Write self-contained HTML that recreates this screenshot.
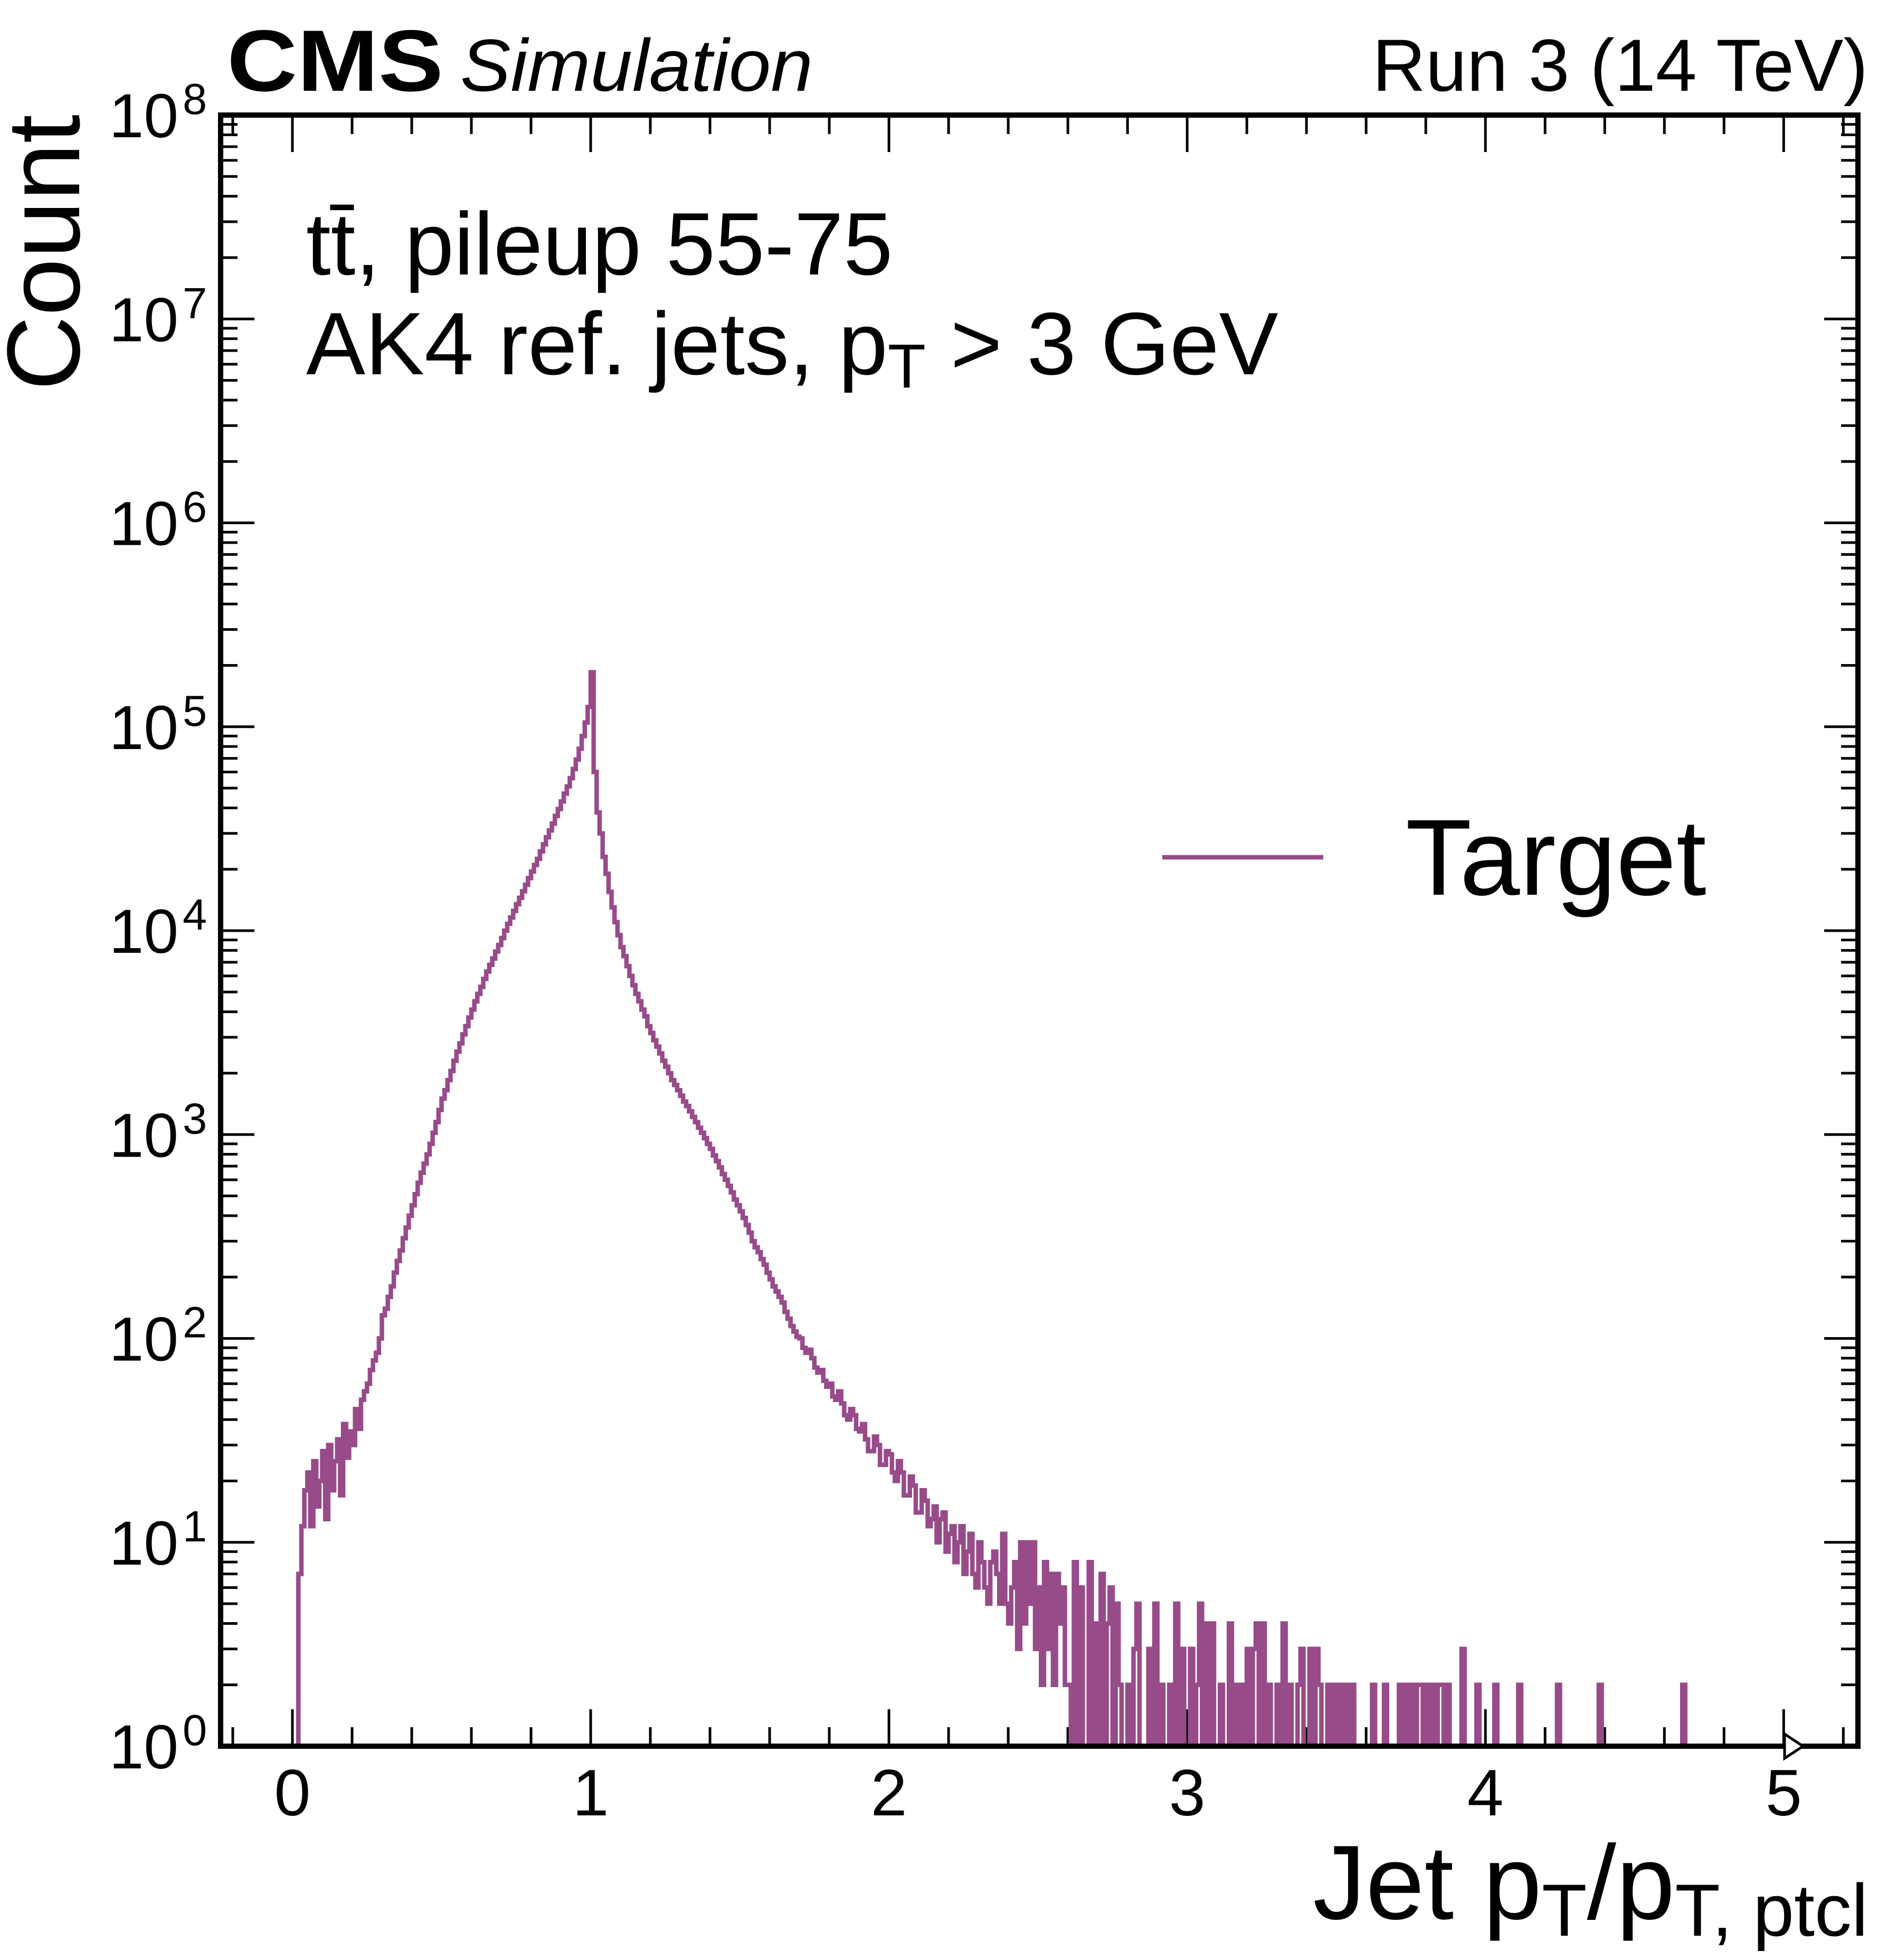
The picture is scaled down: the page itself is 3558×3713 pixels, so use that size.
<!DOCTYPE html>
<html><head><meta charset="utf-8"><style>
html,body{margin:0;padding:0;background:#fff}
svg{display:block}
text{font-family:"Liberation Sans",sans-serif;fill:#000}
</style></head><body>
<svg id="chart" width="3558" height="3713" viewBox="0 0 3558 3713" xmlns="http://www.w3.org/2000/svg">
<g id="ticks"></g>
<path id="hist" fill="none" stroke="#974b89" stroke-width="8.5" stroke-linejoin="miter"/>
<rect x="418" y="218" width="3102" height="3090" fill="none" stroke="#000" stroke-width="10"/>
<path d="M3381,3285 L3416,3308 L3381,3331 Z" fill="#fff" stroke="#000" stroke-width="5"/>
<g id="labels"></g>
<text x="430" y="172" font-size="165" font-weight="bold" textLength="410" lengthAdjust="spacingAndGlyphs">CMS</text>
<text x="872" y="172" font-size="140" font-style="italic" textLength="668" lengthAdjust="spacingAndGlyphs">Simulation</text>
<text x="3539" y="172" font-size="140" text-anchor="end">Run 3 (14 TeV)</text>
<text x="580" y="520" font-size="168">tt̄, pileup 55-75</text>
<text x="580" y="709" font-size="168">AK4 ref. jets, p<tspan font-size="118" dy="25">T</tspan><tspan dy="-25"> &gt; 3 GeV</tspan></text>
<line x1="2202" y1="1624" x2="2507" y2="1624" stroke="#974b89" stroke-width="8.5"/>
<text x="2663" y="1695" font-size="205">Target</text>
<text transform="translate(150,740) rotate(-90)" font-size="196">Count</text>
<text x="3539" y="3635" font-size="200" text-anchor="end">Jet p<tspan font-size="140" dy="32">T</tspan><tspan dy="-32">/p</tspan><tspan font-size="140" dy="32">T, ptcl</tspan></text>
</svg>
<script>
const binStart = 0, binWidth = 0.01;
const countsCore = [0,0,7,12,18,22,12,25,15,20,28,13,30,18,25,32,17,38,26,35,30,45,36,50,55,60,70,78,85,100,
130,140,160,180,210,240,270,310,350,400,450,510,580,650,720,800,900,1020,1150,1320,
1500,1650,1850,2050,2300,2550,2800,3100,3400,3750,4100,4500,4900,5300,5800,6300,6800,7300,7900,8500,
9200,10000,10800,11600,12500,13500,14500,15600,16800,18100,19500,21000,22500,24500,26500,28700,31000,33500,36500,39500,
43000,47000,51000,56000,62000,69000,78000,90000,105000,125000,
185000,60000,38000,30000,23000,19000,15500,13000,11000,9500,8300,7500,6700,6000,5400,4900,4500,4100,3800,3400,
3150,2900,2700,2500,2300,2150,2000,1850,1750,1650,1550,1450,1380,1300,1220,1150,1080,1020,960,900,
850,790,740,690,640,600,560,520,480,450,420,390,360,330,300,280,265,245,230,210,
195,180,170,160,150,135,125,115,108,102,100,90,85,88,80,72,68,70,62,58,
60,52,50,55,48,42,40,45,42,36,35,38,32,28,28,33,30,24,24,28,
27,22,20,25,22,17,17,21,19,14,14,18,16,12,13,15,10,13,14,9,
11,12,8,10,12,7,9,11,7,6,10,8,6,5,8,9,7,5];
const countsTail = [11,5,4,6,8,3,10,4,10,5,10,3,
6,2,8,3,7,2,7,4,6,2, 2,0,8,0,6,1,0,8,1,4, 0,7,1,4,6,1,5,2,0,0, 2,1,3,5,1,0,0,3,1,5,
1,2,0,0,2,0,5,1,3,1, 0,3,1,2,5,1,4,0,4,1, 0,2,0,0,4,1,2,1,2,1, 3,1,3,4,0,4,0,2,1,0,
2,1,4,0,2,1,0,2,3,1, 0,3,1,3,2,0,0,2,1,2, 1,2,1,2,1,2,0,0,0,0, 0,0,2,0,0,0,2,0,0,0,
0,2,1,2,1,2,1,2,2,1, 2,1,2,1,2,2,1,2,0,0, 0,0,3,0,0,0,0,2,0,0, 0,0,0,2,0,0,0,0,0,0,
0,2,0,0,0,0,0,0,0,0, 0,0,0,0,2,0,0,0,0,0, 0,0,0,0,0,0,0,0,2,0, 0,0,0,0,0,0,0,0,0,0,
0,0,0,0,0,0,0,0,0,0, 0,0,0,0,0,0,2,0,0,0, 0,0,0,0,0,0,0,0,0,0, 0,0,0,0,0,0,0,0,0,0, 0,0,0,0,0,0,0,0,0,0];
const counts = countsCore.concat(countsTail);
const xTicks = [0,1,2,3,4,5];
const yTicks = [0,1,2,3,4,5,6,7,8];
const X0=418,X1=3520,Y0=3308,Y1=218,xmin=-0.2407,xmax=5.249,ymin=0,ymax=8;
const sx=v=>X0+(v-xmin)/(xmax-xmin)*(X1-X0);
const sy=c=>c<=0?Y0:Y0-(Math.log10(c)-ymin)/(ymax-ymin)*(Y0-Y1);
let d='';
counts.forEach((c,i)=>{const a=sx(binStart+i*binWidth),b=sx(binStart+(i+1)*binWidth),y=sy(c);
 d+=(i===0?'M':'L')+a.toFixed(1)+','+y.toFixed(1)+' L'+b.toFixed(1)+','+y.toFixed(1)+' ';});
document.getElementById('hist').setAttribute('d',d);
const NS='http://www.w3.org/2000/svg';
const tg=document.getElementById('ticks'),lg=document.getElementById('labels');
function ln(x1,y1,x2,y2,w){const l=document.createElementNS(NS,'line');l.setAttribute('x1',x1);l.setAttribute('y1',y1);l.setAttribute('x2',x2);l.setAttribute('y2',y2);l.setAttribute('stroke','#000');l.setAttribute('stroke-width',w);


tg.appendChild(l);}
for(let k=-1;k<=26;k++){const v=k*0.2;if(v<xmin||v>xmax)continue;const x=sx(v);const major=Math.abs(v-Math.round(v))<1e-6;const L=major?70:36;
 ln(x,Y0,x,Y0-L,5);ln(x,Y1,x,Y1+L,5);}
xTicks.forEach(v=>{const t=document.createElementNS(NS,'text');t.setAttribute('x',sx(v));t.setAttribute('y',3439);t.setAttribute('font-size','124');t.setAttribute('text-anchor','middle');t.textContent=v;


lg.appendChild(t);});
for(let e=0;e<8;e++){for(let m=1;m<10;m++){const y=Y0-(e+Math.log10(m))/8*(Y0-Y1);const L=m===1?64:32;ln(X0,y,X0+L,y,5);ln(X1,y,X1-L,y,5);}}
yTicks.forEach(e=>{const y=sy(Math.pow(10,e));const t=document.createElementNS(NS,'text');t.setAttribute('x',338);t.setAttribute('y',y+42);t.setAttribute('font-size','118');t.setAttribute('text-anchor','end');


t.textContent='10';lg.appendChild(t);
const s=document.createElementNS(NS,'text');s.setAttribute('x',346);s.setAttribute('y',y-2);s.setAttribute('font-size','83');s.textContent=e;


lg.appendChild(s);});
</script>
</body></html>
